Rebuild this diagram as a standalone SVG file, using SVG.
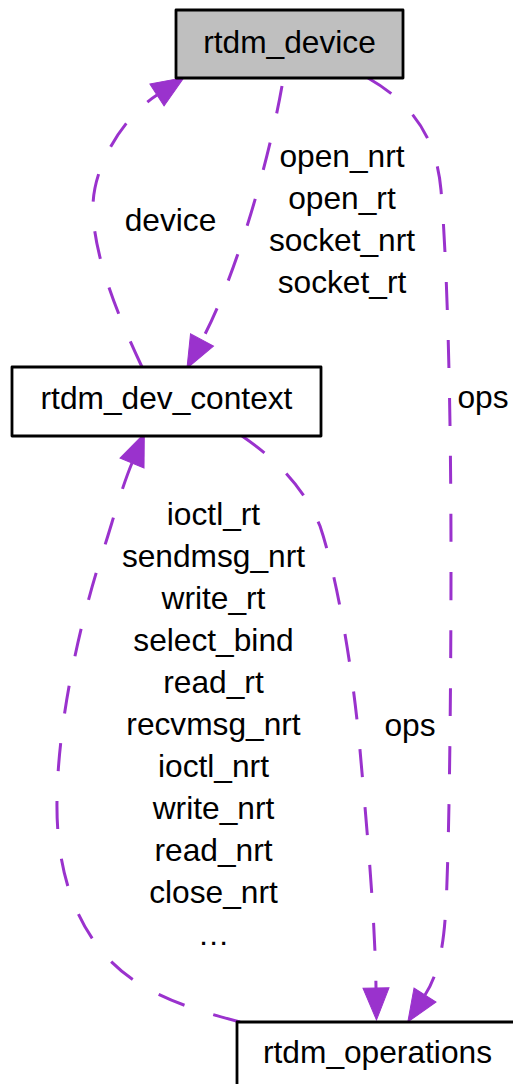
<svg xmlns="http://www.w3.org/2000/svg" width="513" height="1084" viewBox="0 0 513 1084">
<style>
.node rect{stroke:#000;stroke-width:2.8;stroke-linejoin:round}
text{font-family:"Liberation Sans",Arial,sans-serif;font-size:31.7px;fill:#000;text-anchor:middle}
.edge{fill:none;stroke:#9a32cd;stroke-width:3;stroke-dasharray:28,30;marker-end:url(#ah)}
</style>
<defs>
<marker id="ah" markerUnits="userSpaceOnUse" markerWidth="40" markerHeight="40" refX="0" refY="0" orient="auto" overflow="visible">
<path d="M0,-13 L32,0 L0,13 Z" fill="#9a32cd" stroke="#9a32cd" stroke-width="1"/>
</marker>
</defs>
<rect width="513" height="1084" fill="#fff"/>
<g id="connectors">
<path class="edge" d="M142,367 C115,310 92,250 93,205 C94,165 123,117 157,95"/>
<path class="edge" d="M282,86 C268,165 235,278 202,340"/>
<path class="edge" d="M368,78 C410,102 436,135 441,190 C447,260 451,400 451,560 C451,700 449,850 446,905 C444,945 439,973 425,995"/>
<path class="edge" d="M242,436 C280,462 305,490 320,526 C335,570 352,660 360,750 C368,840 375,920 376,988"/>
<path class="edge" d="M240,1022 C195,1010 140,995 105,955 C70,915 56,860 57,800 C58,720 80,620 105,545 C113,520 122,487 132,463"/>
<text x="170.5" y="231">device</text>
<text x="342" y="167">open_nrt</text>
<text x="342" y="209">open_rt</text>
<text x="342" y="251">socket_nrt</text>
<text x="342" y="293">socket_rt</text>
<text x="483" y="408">ops</text>
<text x="410" y="736">ops</text>
<text x="213.5" y="525">ioctl_rt</text>
<text x="213.5" y="567">sendmsg_nrt</text>
<text x="213.5" y="609">write_rt</text>
<text x="213.5" y="651">select_bind</text>
<text x="213.5" y="693">read_rt</text>
<text x="213.5" y="735">recvmsg_nrt</text>
<text x="213.5" y="777">ioctl_nrt</text>
<text x="213.5" y="819">write_nrt</text>
<text x="213.5" y="861">read_nrt</text>
<text x="213.5" y="903">close_nrt</text>
<text x="213.5" y="945">…</text>
</g>
<g id="rtdm_device" class="node">
<rect x="176" y="10" width="227" height="68" fill="#bfbfbf"/>
<text x="289.5" y="52.5">rtdm_device</text>
</g>
<g id="rtdm_dev_context" class="node">
<rect x="12" y="367" width="309" height="69" fill="#fff"/>
<text x="166.5" y="409">rtdm_dev_context</text>
</g>
<g id="rtdm_operations" class="node">
<rect x="237" y="1022" width="281" height="69" fill="#fff"/>
<text x="377.5" y="1063">rtdm_operations</text>
</g>
</svg>
